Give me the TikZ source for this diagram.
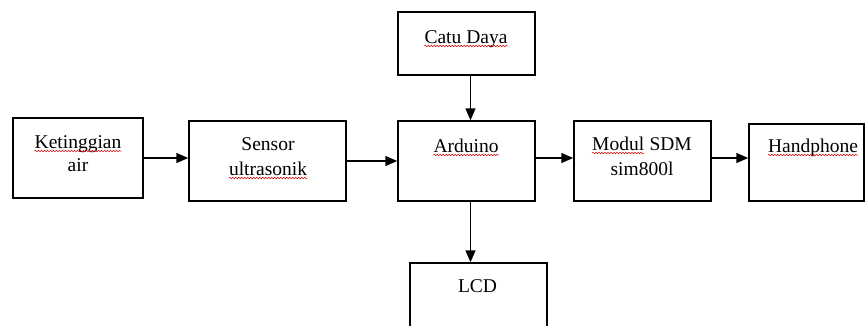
\documentclass[tikz,border=0pt]{standalone}
\usepackage{fontspec}
\setmainfont{Liberation Serif}
\usetikzlibrary{arrows.meta,decorations.pathmorphing}
\begin{document}
\begin{tikzpicture}[x=1pt,y=-1pt,
  box/.style={draw, line width=1.5pt, inner sep=0pt},
  txt/.style={anchor=base, inner sep=0pt, font=\fontsize{19.5pt}{23pt}\selectfont},
  squig/.style={draw=red!85!black, line width=0.5pt, decorate, decoration={snake, amplitude=0.8pt, segment length=3pt}},
  arr/.style={line width=1.5pt, -{Triangle[length=12pt,width=10pt]}}]
\clip (0,0) rectangle (865,325);
\fill[white] (0,0) rectangle (865,325);
% boxes
\node[box, minimum width=130pt, minimum height=80pt] (ket) at (78,158) {};
\node[box, minimum width=157pt, minimum height=80pt] (sen) at (267.5,161) {};
\node[box, minimum width=137pt, minimum height=63pt] (catu) at (466.5,43.5) {};
\node[box, minimum width=137pt, minimum height=80pt] (ard) at (466.5,161) {};
\node[box, minimum width=137pt, minimum height=80pt] (mod) at (642.5,161) {};
\node[box, minimum width=115pt, minimum height=77pt] (hp) at (806.5,162.5) {};
\node[box, minimum width=137pt, minimum height=82pt] (lcd) at (478.5,304) {};
% texts
\node[txt] (ket1) at (78,148) {Ketinggian};
\node[txt] (ket2) at (78,171) {air};
\node[txt] (sen1) at (268,150) {Sensor};
\node[txt] (sen2) at (268,175) {ultrasonik};
\node[txt] (catu1) at (466,43) {Catu Daya};
\node[txt] (ard1) at (466,152) {Arduino};
\node[txt, anchor=base west] (mod1a) at (592,150) {Modul};
\node[txt, anchor=base west] (mod1b) at ([xshift=4.9pt]mod1a.base east) {SDM};
\node[txt] (mod2) at (642,175) {sim800l};
\node[txt] (hp1) at (813,152) {Handphone};
\node[txt] (lcd1) at (477.5,292) {LCD};
% spelling squiggles
\foreach \n in {ket1,sen2,catu1,ard1,mod1a,hp1}
  \path[squig] ([yshift=-3pt]\n.base west) -- ([yshift=-3pt]\n.base east);
% connectors
\draw[arr] (ket.east) -- (ket.east -| sen.west);
\draw[arr] (sen.east) -- (ard.west);
\draw[arr] ([yshift=3pt]ard.east) -- ([yshift=3pt]ard.east -| mod.west);
\draw[arr] ([yshift=3pt]mod.east) -- ([yshift=3pt]mod.east -| hp.west);
\draw[arr] ([xshift=4pt]catu.south) -- ([xshift=4pt]catu.south |- ard.north);
\draw[arr] ([xshift=4pt]ard.south) -- ([xshift=4pt]ard.south |- lcd.north);
\end{tikzpicture}
\end{document}
